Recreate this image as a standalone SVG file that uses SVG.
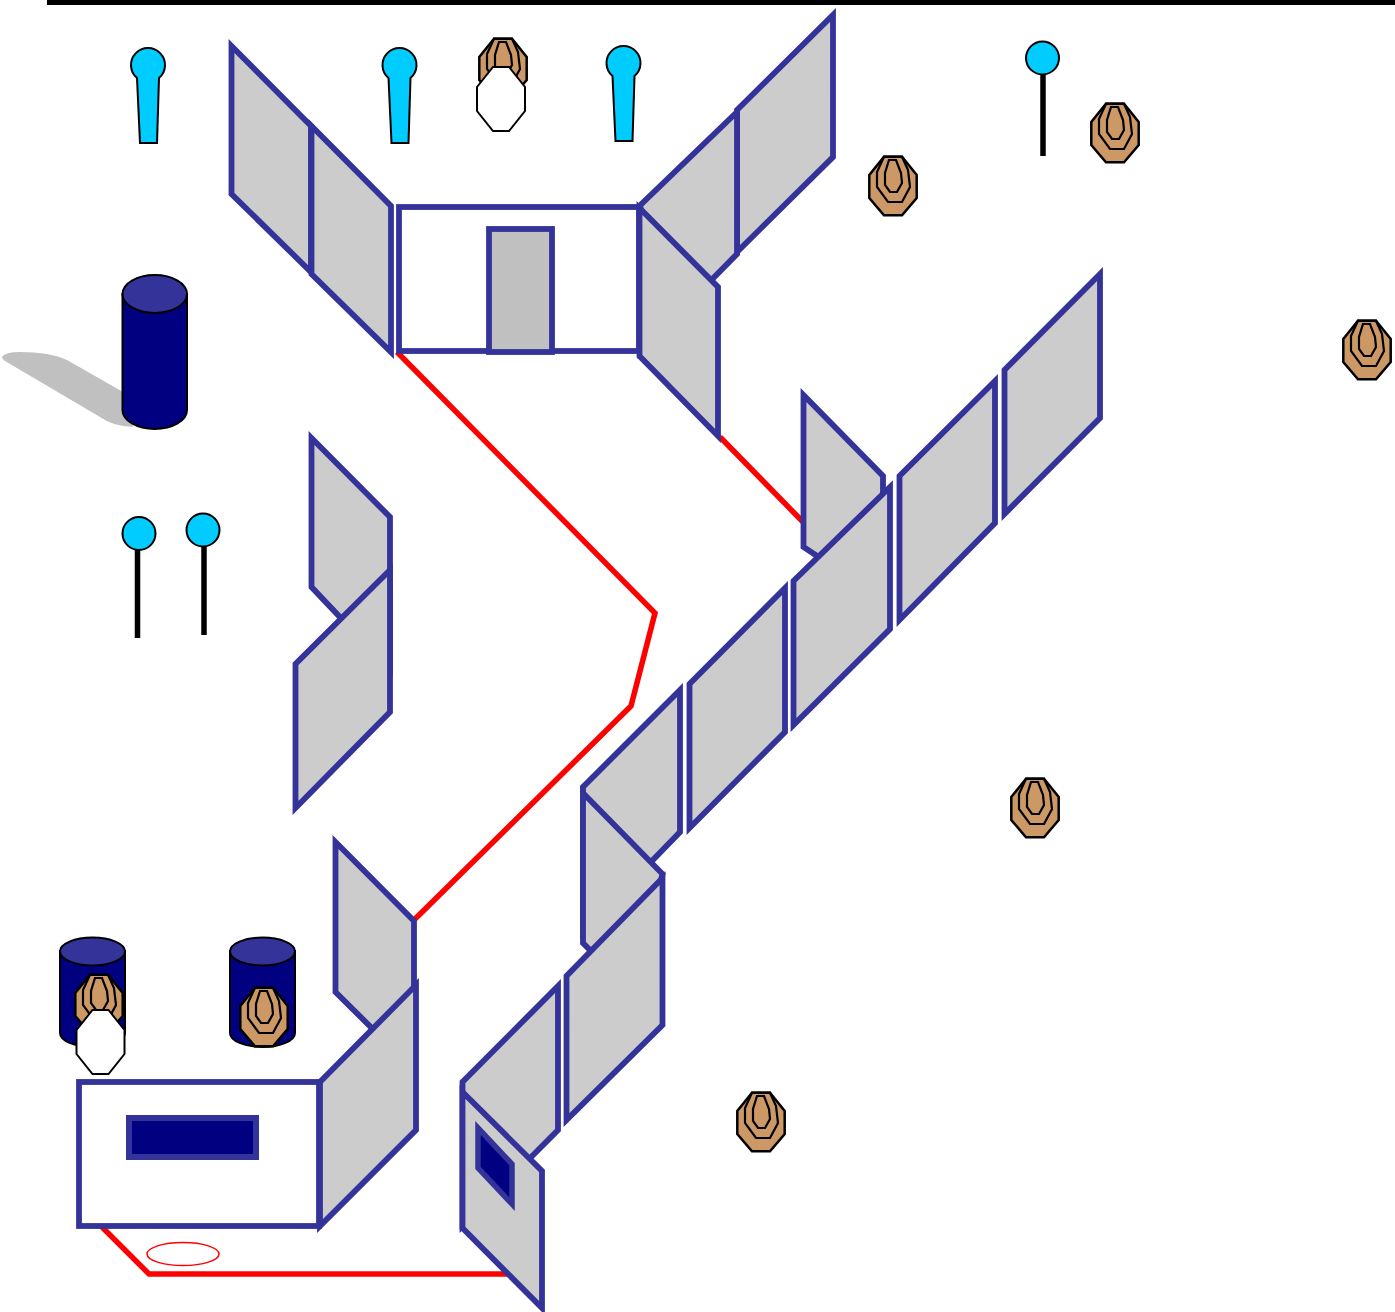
<svg xmlns="http://www.w3.org/2000/svg" xmlns:xlink="http://www.w3.org/1999/xlink" width="1395" height="1312" viewBox="0 0 1395 1312">
<style>
.panel{fill:#CCCCCC;stroke:#333399;stroke-width:5.800;stroke-linejoin:miter}
.box{fill:#FFFFFF;stroke:#333399;stroke-width:5.800}
.route{fill:none;stroke:#FF0000;stroke-width:5.500}
.blk{stroke:#000000;stroke-width:2.500;stroke-linejoin:miter}
.thin{fill:none;stroke:#000000;stroke-width:2.200}
.pole{stroke:#000000;stroke-width:5.500}
.ball{fill:#00CCFF;stroke:#000000;stroke-width:2}
.can{fill:#000080;stroke:#000000;stroke-width:2}
.lid{fill:#333399;stroke:#000000;stroke-width:2}
</style>
<defs>
<g id="target">
<polygon points="-9,-29.300 9,-29.300 23.700,-11 23.700,12 9,29.300 -9,29.300 -23.700,12 -23.700,-11" fill="#CC9966" class="blk"/>
<polygon class="thin" points="-9,-29.300 -16,-14 -16,1 -5,16 9,16 17,1 15,-16 9,-29.300"/>
<polygon class="thin" points="-4,-26 -8,-13 -8,-1 -3,6 4,6 9,-3 8,-13 3,-26"/>
</g>
<polygon id="octa" points="-8,-32 8,-32 24,-12 24,12 8,32 -8,32 -24,12 -24,-12" fill="#FFFFFF" stroke="#000000" stroke-width="2"/>
<path id="pin" class="ball" d="M137,78 A17,17 0 1 1 159,78 L157,143 L140,143 Z"/>
</defs>
<rect width="1395" height="1312" fill="#FFFFFF"/>
<rect x="47" y="0" width="1348" height="5" fill="#000000"/>
<g id="connectors">
<polyline class="route" points="397,352 655,613 631,706 414,920"/>
<polyline class="route" points="720,437 804,523"/>
<polyline class="route" points="101,1226 149,1274 510,1274"/>
</g>
<g id="pin-1"><use href="#pin"/></g>
<g id="pin-2"><use href="#pin" x="251.500"/></g>
<g id="pin-3"><use href="#pin" x="475.500" y="-2"/></g>
<g id="lolly-1"><line class="pole" x1="1043" y1="74" x2="1043" y2="156"/><circle class="ball" cx="1042.500" cy="58" r="16.500"/></g>
<g id="lolly-2"><line class="pole" x1="137.500" y1="549" x2="137.500" y2="638"/><circle class="ball" cx="139" cy="533.500" r="16.500"/></g>
<g id="lolly-3"><line class="pole" x1="204" y1="546" x2="204" y2="635"/><circle class="ball" cx="203" cy="530" r="16.500"/></g>
<g id="wall-a">
<polygon class="panel" points="231.500,46 311,126 311,272 231.500,194"/>
<polygon class="panel" points="311.500,126 391,206 391,352 311.500,274"/>
</g>
<g id="building-top">
<rect class="box" x="399" y="207" width="240" height="144"/>
<rect x="489" y="229" width="63" height="123" fill="#C0C0C0" stroke="#333399" stroke-width="5.800"/>
</g>
<g id="wall-b">
<polygon class="panel" points="737,110 833,15 833,157 737,252"/>
<polygon class="panel" points="737,112 640.500,205 640.500,352 737,254"/>
<polygon class="panel" points="639.500,208 718,287 718,436 639.500,356"/>
</g>
<g id="target-top"><use href="#target" x="503" y="68"/><use href="#octa" x="501" y="99"/></g>
<g id="cyl-large">
<path d="M2,357 Q5,352 20,352 Q50,352 67,360 L123,392 L133,427 Q112,426 100,417 L5,361 Q2,359 2,357Z" fill="#C0C0C0"/>
<path class="can" d="M122.500,294 V410 A32.250,19 0 0 0 187,410 V294 Z"/>
<ellipse class="lid" cx="154.750" cy="294" rx="32.250" ry="19"/>
</g>
<g id="wall-c">
<polygon class="panel" points="803.500,395 883,476 883,600 803.500,547"/>
<polygon class="panel" points="890,487 793.500,581 793.500,725 890,629"/>
<polygon class="panel" points="995,381 899.500,476 899.500,620 995,523"/>
<polygon class="panel" points="1100,274 1004.500,370 1004.500,514 1100,418"/>
<polygon class="panel" points="785,588 689.500,684 689.500,828 785,732"/>
<polygon class="panel" points="680,690 583,787 583,932 680,832"/>
<polygon class="panel" points="583,793 662.500,874 640,960 590,950 583,943"/>
<polygon class="panel" points="662.500,878 566.500,976 566.500,1120 662.500,1025"/>
</g>
<g id="wall-d">
<polygon class="panel" points="311.500,438 390,517 390,670 311.500,587"/>
<polygon class="panel" points="390,570 295.500,664 295.500,808 390,712"/>
</g>
<g id="cyl-left">
<path class="can" d="M60,951 V1033 A32.500,14 0 0 0 125,1033 V951 Z"/>
<ellipse class="lid" cx="92.500" cy="951.500" rx="32.500" ry="14"/>
<use href="#target" x="99" y="1004"/>
<use href="#octa" x="100.500" y="1042"/>
</g>
<g id="cyl-right">
<path class="can" d="M230,951 V1033 A32.500,14 0 0 0 295,1033 V951 Z"/>
<ellipse class="lid" cx="262.500" cy="951.500" rx="32.500" ry="14"/>
<use href="#target" x="264" y="1017"/>
</g>
<g id="building-bottom">
<polygon class="panel" points="335.500,842 414,921 414,1070 335.500,992"/>
<polygon class="panel" points="416,985 320,1082 320,1226 416,1130"/>
<rect class="box" x="79" y="1082" width="240" height="144"/>
<rect x="129" y="1118" width="127" height="39" fill="#000080" stroke="#333399" stroke-width="6"/>
</g>
<g id="oval"><ellipse cx="183" cy="1254" rx="36" ry="11.500" fill="none" stroke="#FF0000" stroke-width="1.500"/></g>
<g id="wall-e">
<polygon class="panel" points="558,986 462.500,1082 462.500,1226 558,1130"/>
<polygon class="panel" points="462.500,1092 542,1171 542,1308 462.500,1228"/>
<polygon points="478,1128 512,1164 512,1204 478,1168" fill="#000080" stroke="#333399" stroke-width="5.500"/>
</g>
<g id="target-1"><use href="#target" x="893" y="186"/></g>
<g id="target-2"><use href="#target" x="1115" y="133"/></g>
<g id="target-3"><use href="#target" x="1367" y="350"/></g>
<g id="target-4"><use href="#target" x="1035" y="808"/></g>
<g id="target-5"><use href="#target" x="761" y="1122"/></g>
</svg>
